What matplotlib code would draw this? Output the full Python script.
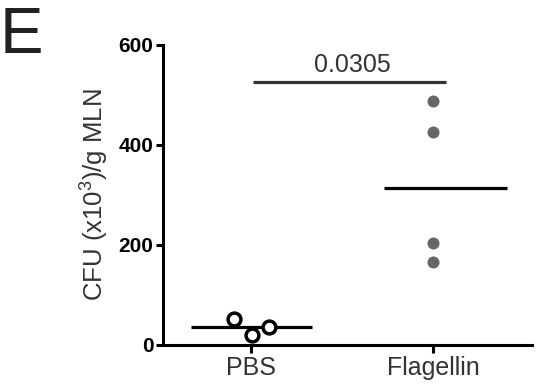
import matplotlib
matplotlib.use("Agg")
import matplotlib.pyplot as plt
import numpy as np

plt.rcParams["font.family"] = ["Liberation Sans", "DejaVu Sans"]
plt.rcParams["mathtext.fontset"] = "custom"
plt.rcParams["mathtext.rm"] = "Liberation Sans"

# data (CFU x10^3 / g MLN)
groups = ["PBS", "Flagellin"]
pbs = [52, 20, 36]
flagellin = [488, 425, 203, 165]
p_value = "0.0305"
y_ticks = [0, 200, 400, 600]

fig = plt.figure(figsize=(5.36, 3.85), dpi=100)
ax = fig.add_axes([163 / 536, 40 / 385, (532 - 163) / 536, (345 - 44.5) / 385])

# individual points
pbs_x = np.array([-0.093, 0.005, 0.099])
ax.scatter(pbs_x, pbs, s=85, facecolors="white", edgecolors="black",
           linewidths=2.5, zorder=4)
ax.scatter(np.full(len(flagellin), 1.0), flagellin, s=75, color="#666666",
           linewidths=0, zorder=4)

# median lines
ax.plot([-0.33, 0.335], [np.median(pbs)] * 2, color="black", lw=2.3,
        solid_capstyle="butt", zorder=3)
ax.plot([0.73, 1.405], [np.median(flagellin)] * 2, color="black", lw=2.3,
        solid_capstyle="butt", zorder=3)

# significance bar
ax.plot([0.01, 1.07], [526, 526], color="#333333", lw=2.3,
        solid_capstyle="butt", clip_on=False)
ax.text(0.555, 535, p_value, ha="center", va="bottom", fontsize=18,
        color="#333333")

ax.set_xlim(-0.484, 1.544)
ax.set_ylim(0, 600)
ax.set_xticks([0, 1])
ax.set_xticklabels(groups, fontsize=18, color="#333333")
ax.set_yticks(y_ticks)
ax.set_yticklabels([str(t) for t in y_ticks], fontsize=15, fontweight="bold")
ax.tick_params(axis="y", length=5, width=2.2, pad=2)
ax.tick_params(axis="x", length=6, width=2.2, pad=2)

for s in ["top", "right"]:
    ax.spines[s].set_visible(False)
for s in ["left", "bottom"]:
    ax.spines[s].set_linewidth(2.2)

ax.set_ylabel("CFU (x10$^{\\mathregular{3}}$)/g MLN", fontsize=18.5,
              color="#333333", labelpad=6)

fig.text(0.0, 0.985, "E", fontsize=47, ha="left", va="top", color="#222222")

fig.savefig("out.png", dpi=100)
